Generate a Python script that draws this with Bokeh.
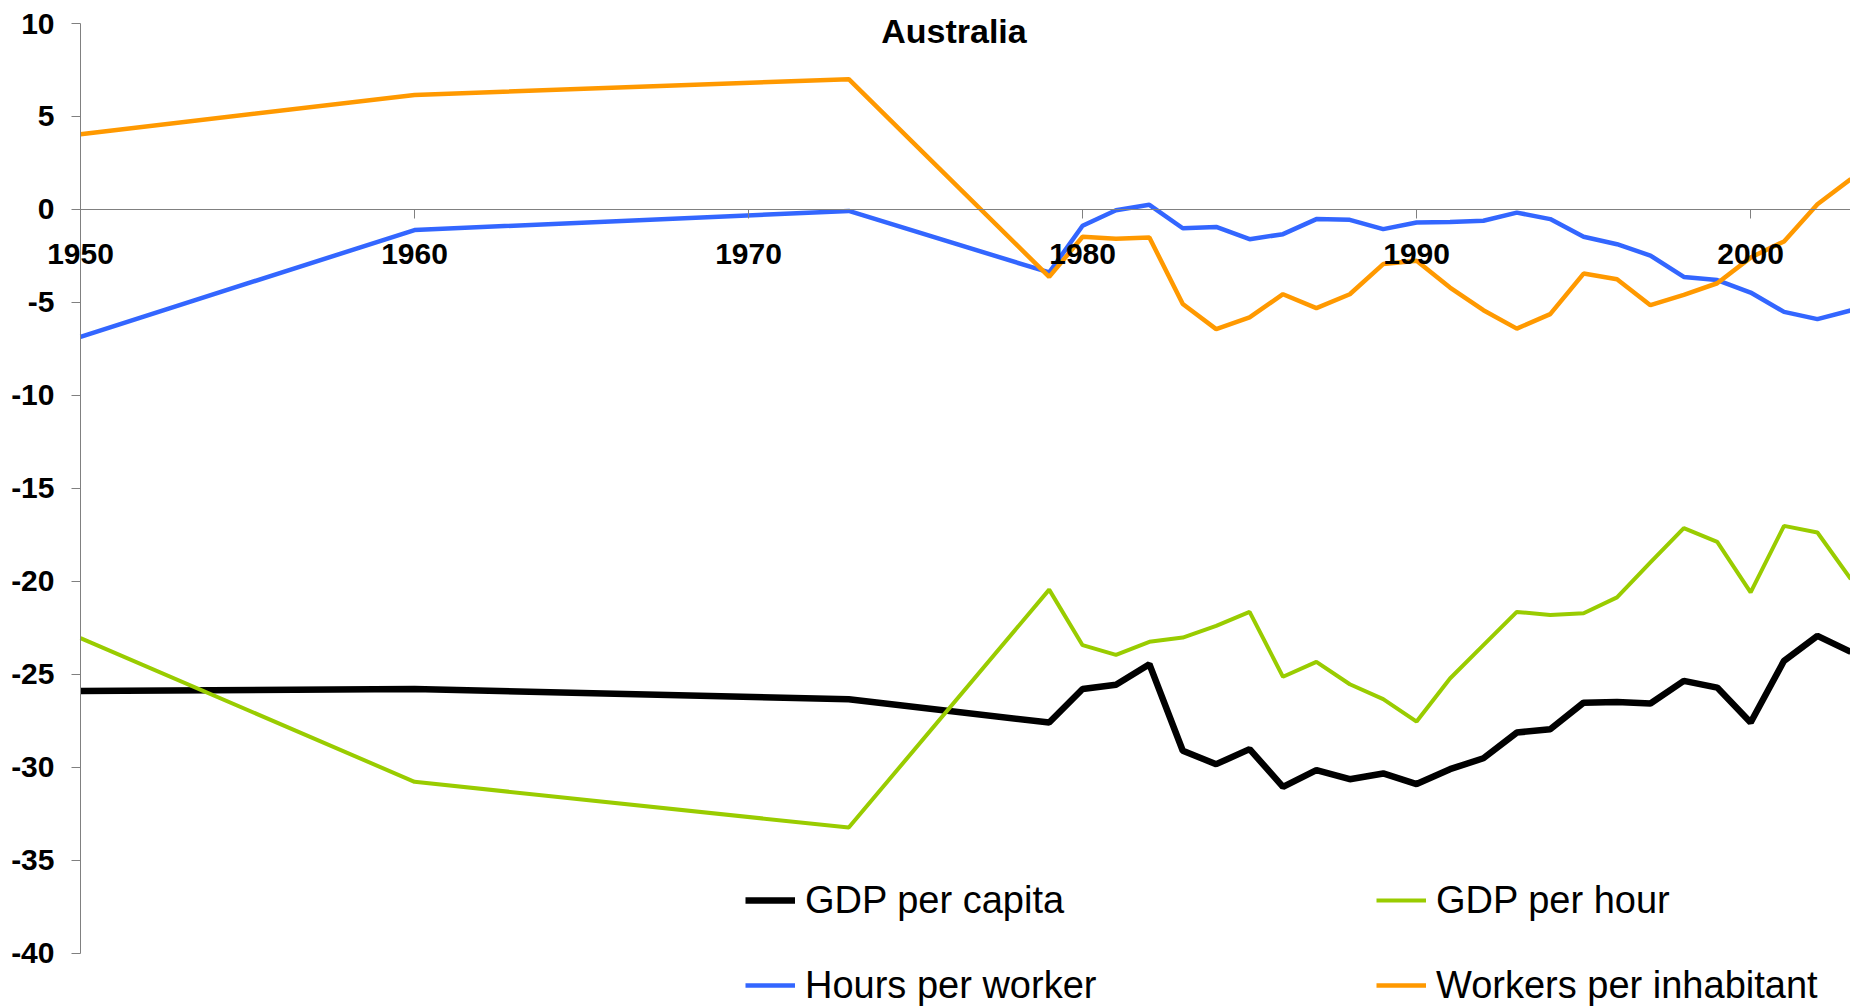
from bokeh.plotting import figure
from bokeh.models import Range1d, FixedTicker, Legend, LegendItem, Label
from bokeh.embed import file_html
from bokeh.resources import INLINE

years = [1950, 1960, 1973, 1979, 1980, 1981, 1982, 1983, 1984, 1985, 1986, 1987,
         1988, 1989, 1990, 1991, 1992, 1993, 1994, 1995, 1996, 1997, 1998, 1999,
         2000, 2001, 2002, 2003]

gdp_per_capita = [-25.9, -25.8, -26.35, -27.6, -25.8, -25.57, -24.46, -29.12, -29.84,
                  -29.03, -31.06, -30.16, -30.65, -30.34, -30.91, -30.11, -29.52,
                  -28.14, -27.96, -26.53, -26.49, -26.58, -25.36, -25.72, -27.6,
                  -24.28, -22.94, -23.8]

gdp_per_hour = [-23.06, -30.79, -33.25, -20.45, -23.44, -23.96, -23.26, -23.03, -22.4,
                -21.65, -25.14, -24.34, -25.54, -26.34, -27.55, -25.23, -23.44, -21.65,
                -21.82, -21.72, -20.87, -18.99, -17.14, -17.88, -20.6, -17.02, -17.38,
                -19.89]

hours_per_worker = [-6.85, -1.11, -0.08, -3.39, -0.88, -0.04, 0.25, -1.01, -0.94, -1.6,
                    -1.33, -0.52, -0.56, -1.06, -0.7, -0.67, -0.61, -0.17, -0.52, -1.47,
                    -1.87, -2.48, -3.63, -3.8, -4.47, -5.51, -5.9, -5.43]

workers_per_inhabitant = [4.05, 6.16, 7.01, -3.63, -1.47, -1.57, -1.51, -5.09, -6.44,
                          -5.81, -4.56, -5.31, -4.56, -2.94, -2.76, -4.2, -5.42, -6.41,
                          -5.63, -3.45, -3.75, -5.15, -4.59, -3.97, -2.59, -1.72, 0.28,
                          1.63]

x_ticks = [1950, 1960, 1970, 1980, 1990, 2000]
y_ticks = [-40, -35, -30, -25, -20, -15, -10, -5, 0, 5, 10]

FONT = "Liberation Sans"

p = figure(width=1850, height=1007,
           x_range=Range1d(1947.605, 2002.99), y_range=Range1d(-42.93, 11.24),
           output_backend="svg", toolbar_location=None,
           min_border_left=0, min_border_right=0, min_border_top=0,
           min_border_bottom=0, outline_line_color=None)
p.xgrid.visible = False
p.ygrid.visible = False

r_cap = p.line(years, gdp_per_capita, line_color="#000000", line_width=6.5)
r_hour = p.line(years, gdp_per_hour, line_color="#99CC00", line_width=4)
r_hpw = p.line(years, hours_per_worker, line_color="#3366FF", line_width=4.5)
r_wpi = p.line(years, workers_per_inhabitant, line_color="#FF9900", line_width=4.5)

for ax in (p.xaxis[0], p.yaxis[0]):
    ax.axis_line_color = "#808080"
    ax.major_tick_line_color = "#808080"
    ax.minor_tick_line_color = None
    ax.major_tick_in = 0
    ax.major_tick_out = 9
    ax.major_label_text_font = FONT
    ax.major_label_text_font_style = "bold"
    ax.major_label_text_font_size = "30px"
    ax.major_label_text_color = "#000000"

p.xaxis.ticker = FixedTicker(ticks=x_ticks)
p.xaxis.fixed_location = 0
p.xaxis.bounds = (1950, 2010)
p.xaxis.major_label_standoff = 26
p.yaxis.ticker = FixedTicker(ticks=y_ticks)
p.yaxis.major_label_overrides = {t: str(t) for t in y_ticks}
p.yaxis.fixed_location = 1950
p.yaxis.bounds = (-40, 10)
p.yaxis.major_label_standoff = 17

title = Label(x=1976.15, y=9.61, text="Australia", text_font=FONT,
              text_font_style="bold", text_font_size="34px", text_color="#000000",
              text_align="center", text_baseline="middle")
p.add_layout(title)

def make_legend(items, loc):
    lg = Legend(items=items, location=loc, orientation="vertical",
                label_text_font=FONT, label_text_font_size="38px",
                label_text_color="#000000",
                glyph_width=50, glyph_height=44, label_height=44,
                label_standoff=10, spacing=41, padding=0, margin=0,
                border_line_color=None, background_fill_alpha=0)
    return lg

legA = make_legend([LegendItem(label="GDP per capita", renderers=[r_cap]),
                    LegendItem(label="Hours per worker", renderers=[r_hpw])],
                   (745, 0))
legB = make_legend([LegendItem(label="GDP per hour", renderers=[r_hour]),
                    LegendItem(label="Workers per inhabitant", renderers=[r_wpi])],
                   (1376, 0))
p.add_layout(legA)
p.add_layout(legB)

open("out.html", "w").write(file_html(p, INLINE))
